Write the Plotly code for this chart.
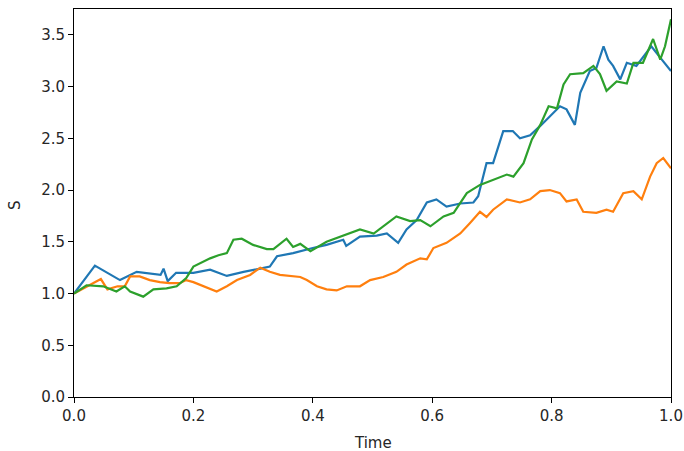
import plotly.graph_objects as go

# Path 1 (blue)
t_blue = [0.0, 0.035, 0.077, 0.105, 0.145, 0.15, 0.157, 0.171, 0.2, 0.228, 0.256, 0.284, 0.312,
          0.328, 0.34, 0.367, 0.4, 0.423, 0.451, 0.456, 0.479, 0.507, 0.524, 0.543, 0.557, 0.574,
          0.591, 0.607, 0.624, 0.647, 0.669, 0.677, 0.691, 0.702, 0.719, 0.735, 0.747, 0.764,
          0.781, 0.797, 0.814, 0.825, 0.839, 0.848, 0.864, 0.875, 0.887, 0.895, 0.903, 0.915,
          0.926, 0.942, 0.959, 0.967, 0.982, 1.0]
s_blue = [1.0, 1.27, 1.13, 1.21, 1.18, 1.24, 1.12, 1.2, 1.2, 1.23, 1.17, 1.21, 1.24,
          1.26, 1.36, 1.39, 1.44, 1.47, 1.52, 1.46, 1.55, 1.56, 1.58, 1.49, 1.62, 1.71,
          1.88, 1.91, 1.84, 1.87, 1.88, 1.94, 2.26, 2.26, 2.57, 2.57, 2.50, 2.53,
          2.62, 2.71, 2.81, 2.78, 2.63, 2.94, 3.15, 3.18, 3.39, 3.26, 3.2, 3.07,
          3.23, 3.2, 3.33, 3.39, 3.28, 3.15]

# Path 2 (orange)
t_orange = [0.0, 0.032, 0.045, 0.056, 0.073, 0.085, 0.094, 0.11, 0.127, 0.144, 0.16, 0.177,
            0.188, 0.2, 0.216, 0.239, 0.256, 0.273, 0.295, 0.312, 0.328, 0.345, 0.379, 0.39,
            0.407, 0.423, 0.44, 0.457, 0.479, 0.496, 0.518, 0.54, 0.557, 0.58, 0.591, 0.602,
            0.624, 0.647, 0.663, 0.68, 0.691, 0.702, 0.725, 0.747, 0.764, 0.781, 0.797, 0.814,
            0.825, 0.842, 0.853, 0.875, 0.892, 0.903, 0.92, 0.937, 0.951, 0.965, 0.976, 0.987, 1.0]
s_orange = [1.0, 1.1, 1.14, 1.04, 1.07, 1.07, 1.165, 1.165, 1.13, 1.11, 1.1, 1.1,
            1.13, 1.11, 1.07, 1.02, 1.07, 1.13, 1.18, 1.25, 1.21, 1.18, 1.16, 1.13,
            1.07, 1.04, 1.03, 1.07, 1.07, 1.13, 1.16, 1.21, 1.28, 1.34, 1.33, 1.44,
            1.49, 1.58, 1.68, 1.79, 1.74, 1.81, 1.91, 1.88, 1.91, 1.99, 2.0, 1.97,
            1.89, 1.91, 1.79, 1.78, 1.81, 1.79, 1.97, 1.99, 1.91, 2.13, 2.26, 2.31, 2.21]

# Path 3 (green)
t_green = [0.0, 0.021, 0.049, 0.071, 0.085, 0.094, 0.116, 0.133, 0.155, 0.172, 0.188, 0.2,
           0.228, 0.242, 0.256, 0.267, 0.281, 0.3, 0.323, 0.334, 0.356, 0.367, 0.379, 0.396,
           0.423, 0.451, 0.479, 0.502, 0.524, 0.54, 0.563, 0.58, 0.597, 0.619, 0.636, 0.658,
           0.68, 0.702, 0.725, 0.736, 0.753, 0.767, 0.781, 0.795, 0.809, 0.82, 0.831, 0.853,
           0.87, 0.881, 0.892, 0.909, 0.926, 0.937, 0.953, 0.97, 0.982, 0.99, 1.0]
s_green = [1.0, 1.08, 1.07, 1.02, 1.07, 1.02, 0.97, 1.04, 1.05, 1.07, 1.15, 1.26,
           1.34, 1.37, 1.39, 1.52, 1.53, 1.47, 1.43, 1.43, 1.53, 1.45, 1.48, 1.41,
           1.5, 1.56, 1.62, 1.58, 1.68, 1.745, 1.70, 1.71, 1.65, 1.745, 1.78, 1.97,
           2.05, 2.10, 2.15, 2.13, 2.26, 2.49, 2.63, 2.81, 2.79, 3.02, 3.12, 3.13,
           3.2, 3.12, 2.96, 3.05, 3.03, 3.23, 3.23, 3.46, 3.26, 3.39, 3.65]

x_ticks = [0.0, 0.2, 0.4, 0.6, 0.8, 1.0]
x_tick_labels = ["0.0", "0.2", "0.4", "0.6", "0.8", "1.0"]
y_ticks = [0.0, 0.5, 1.0, 1.5, 2.0, 2.5, 3.0, 3.5]
y_tick_labels = ["0.0", "0.5", "1.0", "1.5", "2.0", "2.5", "3.0", "3.5"]

fig = go.Figure()
for t, s, c in [(t_blue, s_blue, "#1f77b4"), (t_orange, s_orange, "#ff7f0e"), (t_green, s_green, "#2ca02c")]:
    fig.add_trace(go.Scatter(x=t, y=s, mode="lines", line=dict(color=c, width=2.2), showlegend=False))

L, R, T, B = 74, 13, 9, 54
pw, ph = 684 - L - R, 451 - T - B
font = dict(family="DejaVu Sans", size=15, color="#262626")
axis_common = dict(ticks="outside", ticklen=5, tickwidth=1, tickcolor="black", showline=True,
                   linecolor="black", linewidth=1, mirror=True, showgrid=False, zeroline=False,
                   automargin=False)
fig.update_layout(
    width=684, height=451,
    margin=dict(l=L, r=R, t=T, b=B, autoexpand=False),
    plot_bgcolor="white", paper_bgcolor="white",
    font=font,
    xaxis=dict(range=[0, 1], tickvals=x_ticks, ticktext=x_tick_labels, **axis_common),
    yaxis=dict(range=[0, 3.75], tickvals=y_ticks, ticktext=y_tick_labels, **axis_common),
    annotations=[
        dict(text="Time", x=0.5, y=-(443 - 397) / ph, xref="paper", yref="paper", showarrow=False,
             xanchor="center", yanchor="middle", font=font),
        dict(text="S", x=(15 - L) / pw, y=(397 - 205) / ph, xref="paper", yref="paper",
             showarrow=False, textangle=-90, xanchor="center", yanchor="middle", font=font),
    ],
)

fig.write_html("out.html", config={"displayModeBar": False},
               post_script="document.body.style.margin='0px';document.body.style.overflow='hidden';")
